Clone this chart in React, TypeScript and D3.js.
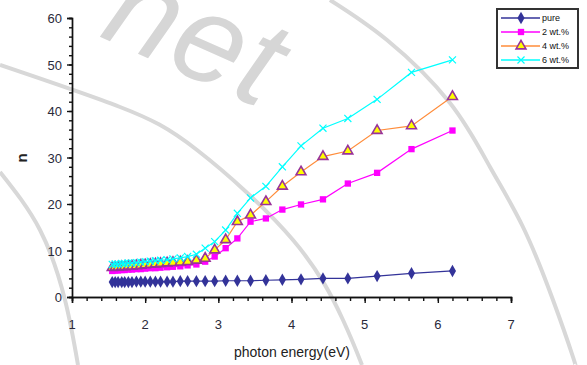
import { useEffect, useRef } from 'react';
import * as d3 from 'd3';

const energy = [1.55, 1.59, 1.63, 1.68, 1.72, 1.77, 1.82, 1.88, 1.94, 2.0, 2.07, 2.14, 2.21, 2.3, 2.38, 2.48, 2.58, 2.7, 2.82, 2.95, 3.1, 3.26, 3.44, 3.65, 3.875, 4.13, 4.43, 4.77, 5.17, 5.64, 6.2];

const pure = [3.2, 3.2, 3.2, 3.2, 3.2, 3.2, 3.2, 3.3, 3.3, 3.3, 3.3, 3.3, 3.3, 3.3, 3.3, 3.4, 3.4, 3.4, 3.4, 3.4, 3.5, 3.5, 3.5, 3.6, 3.7, 3.8, 4.0, 4.0, 4.5, 5.1, 5.6];
const wt2 = [5.6, 5.7, 5.7, 5.8, 5.8, 5.9, 5.9, 6.0, 6.0, 6.1, 6.2, 6.2, 6.3, 6.4, 6.5, 6.6, 6.8, 7.0, 7.6, 8.7, 10.5, 12.6, 16.2, 16.9, 18.8, 19.9, 21.0, 24.4, 26.7, 31.8, 35.8];
const wt4 = [6.3, 6.4, 6.4, 6.5, 6.5, 6.6, 6.6, 6.7, 6.8, 6.9, 7.0, 7.1, 7.2, 7.3, 7.4, 7.5, 7.6, 7.9, 8.3, 10.1, 12.3, 16.2, 17.6, 20.5, 23.8, 26.9, 30.2, 31.4, 35.8, 36.8, 43.1];
const wt6 = [7.0, 7.1, 7.1, 7.2, 7.2, 7.3, 7.3, 7.4, 7.5, 7.6, 7.7, 7.8, 7.9, 8.0, 8.2, 8.4, 8.7, 9.2, 10.5, 11.9, 14.4, 18.0, 21.3, 23.8, 28.0, 32.5, 36.3, 38.4, 42.5, 48.3, 51.0];

const seriesNames = ['pure', '2 wt.%', '4 wt.%', '6 wt.%'];
const xTicks = [1, 2, 3, 4, 5, 6, 7];
const yTicks = [0, 10, 20, 30, 40, 50, 60];

export default function App() {
  const svgRef = useRef<SVGSVGElement>(null);

  useEffect(() => {
    if (!svgRef.current) return;
    const svg = d3.select(svgRef.current);
    svg.selectAll('*').remove();

    const W = 587, H = 365;
    svg.append('rect').attr('width', W).attr('height', H).attr('fill', '#fff');

    // watermark behind the chart
    const wm = svg.append('g').attr('fill', 'none').attr('stroke', '#d8d8d8').attr('stroke-width', 4);
    const curve = d3.line().curve(d3.curveNatural);
    wm.append('path').attr('d', curve([[0, 65], [120, 107], [197, 150], [293, 240], [343, 320], [362, 365]]));
    wm.append('path').attr('d', curve([[330, 0], [387, 40], [450, 103], [490, 167], [523, 227], [553, 300], [573, 357], [575, 365]]));
    wm.append('path').attr('d', curve([[0, 172], [40, 230], [65, 300], [78, 365]]));
    const clip = svg.append('defs').append('clipPath').attr('id', 'wmclip');
    clip.append('rect').attr('width', W).attr('height', H);
    svg.append('g').attr('clip-path', 'url(#wmclip)').append('text')
      .attr('transform', 'translate(98,36) rotate(24)')
      .attr('font-family', 'Liberation Sans, Arial, sans-serif')
      .attr('font-size', 125)
      .attr('font-style', 'italic')
      .attr('fill', '#d6d6d6')
      .attr('letter-spacing', 2)
      .text('net');

    const x = d3.scaleLinear().domain([1, 7]).range([72, 511]);
    const y = d3.scaleLinear().domain([0, 60]).range([297, 18]);

    const font = 'Liberation Sans, Arial, sans-serif';

    // axes
    const xAxis = svg.append('g').attr('transform', `translate(0,${y(0)})`);
    xAxis.call(d3.axisBottom(x).tickValues(d3.range(1, 7.001, 0.2)).tickSize(4).tickFormat(() => ''));
    xAxis.append('g').call(d3.axisBottom(x).tickValues(xTicks).tickSize(6).tickFormat(() => ''));
    xAxis.selectAll('path, line').attr('stroke', '#111').attr('stroke-width', 1.4);
    svg.append('g').selectAll('text').data(xTicks).join('text')
      .attr('x', d => x(d)).attr('y', 329)
      .attr('text-anchor', 'middle').attr('font-family', font).attr('font-size', 13).attr('fill', '#2a2a3a')
      .text(d => d);

    const yAxis = svg.append('g').attr('transform', `translate(${x(1)},0)`);
    yAxis.call(d3.axisLeft(y).tickValues(d3.range(0, 60.001, 2)).tickSize(3).tickFormat(() => ''));
    yAxis.append('g').call(d3.axisLeft(y).tickValues(yTicks).tickSize(5).tickFormat(() => ''));
    yAxis.selectAll('path, line').attr('stroke', '#111').attr('stroke-width', 1.4);
    svg.append('g').selectAll('text').data(yTicks).join('text')
      .attr('x', 62).attr('y', d => y(d) + 5)
      .attr('text-anchor', 'end').attr('font-family', font).attr('font-size', 13).attr('fill', '#2a2a3a')
      .text(d => d);

    svg.append('text')
      .attr('transform', 'translate(27,158) rotate(-90)')
      .attr('text-anchor', 'middle').attr('font-family', font).attr('font-size', 15).attr('font-weight', 'bold')
      .attr('fill', '#222').text('n');
    svg.append('text')
      .attr('x', 292).attr('y', 357)
      .attr('text-anchor', 'middle').attr('font-family', font).attr('font-size', 14)
      .attr('fill', '#222').text('photon energy(eV)');

    const series = [
      { name: seriesNames[0], values: pure, color: '#333399', marker: 'diamond' },
      { name: seriesNames[1], values: wt2, color: '#ff00ff', marker: 'square' },
      { name: seriesNames[2], values: wt4, color: '#ff8c3a', marker: 'triangle' },
      { name: seriesNames[3], values: wt6, color: '#00ffff', marker: 'cross' },
    ];

    const drawMarker = (g: any, kind: string, color: string, cx: number, cy: number) => {
      if (kind === 'diamond') {
        g.append('path').attr('d', d3.symbol(d3.symbolDiamond, 44)()).attr('transform', `translate(${cx},${cy})`).attr('fill', color);
      } else if (kind === 'square') {
        g.append('path').attr('d', d3.symbol(d3.symbolSquare, 40)()).attr('transform', `translate(${cx},${cy})`).attr('fill', color);
      } else if (kind === 'triangle') {
        g.append('path').attr('d', d3.symbol(d3.symbolTriangle, 42)()).attr('transform', `translate(${cx},${cy})`)
          .attr('fill', '#ffff00').attr('stroke', '#993399').attr('stroke-width', 1.6);
      } else {
        g.append('path').attr('d', d3.symbol(d3.symbolTimes, 34)()).attr('transform', `translate(${cx},${cy})`)
          .attr('fill', 'none').attr('stroke', color).attr('stroke-width', 1.2);
      }
    };

    const line = d3.line<number>().x((_, i) => x(energy[i])).y(d => y(d));
    series.forEach(s => {
      const g = svg.append('g');
      g.append('path').attr('d', line(s.values)).attr('fill', 'none').attr('stroke', s.color).attr('stroke-width', 1.2);
      s.values.forEach((v, i) => drawMarker(g, s.marker, s.color, x(energy[i]), y(v)));
    });

    // legend
    const lg = svg.append('g');
    lg.append('rect').attr('x', 497).attr('y', 9).attr('width', 81).attr('height', 59)
      .attr('fill', '#fff').attr('stroke', '#333').attr('stroke-width', 2);
    series.forEach((s, i) => {
      const ly = 18 + i * 14;
      lg.append('line').attr('x1', 501).attr('x2', 540).attr('y1', ly).attr('y2', ly).attr('stroke', s.color).attr('stroke-width', 1.4);
      drawMarker(lg, s.marker, s.color, 521, ly);
      lg.append('text').attr('x', 542).attr('y', ly + 3).attr('font-family', font).attr('font-size', 9)
        .attr('fill', '#111').text(s.name);
    });
  }, []);

  return (
    <svg ref={svgRef} width={587} height={365} style={{ position: 'absolute', left: 0, top: 0 }} />
  );
}
